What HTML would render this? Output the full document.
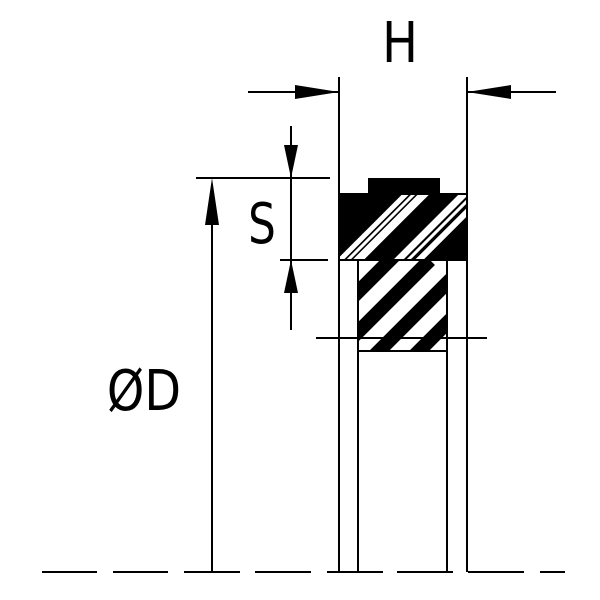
<!DOCTYPE html>
<html><head><meta charset="utf-8"><style>html,body{margin:0;padding:0;background:#fff}svg{display:block}</style></head>
<body>
<svg width="600" height="600" viewBox="0 0 600 600" xmlns="http://www.w3.org/2000/svg">
<defs>
<clipPath id="ct"><rect x="339" y="194" width="127" height="66"/></clipPath>
<clipPath id="cb"><rect x="358" y="260" width="89" height="91"/></clipPath>
</defs>
<g stroke="#000" stroke-width="2" fill="none">
<path d="M42 572H97M113 572H168M184 572H240M255 572H311M327 572H383M397 572H453M468 572H524M540 572H565"/>
<path d="M339 77V572M467 77V572M358 260V572M447 260V572"/>
<path d="M248 92H339M467 92H556"/>
<path d="M196 178H330M280 260H328M291 126V330"/>
<path d="M212 200V572"/>
</g>
<g fill="#000">
<polygon points="339,92 295,85 295,99"/>
<polygon points="467,92 511,85 511,99"/>
<polygon points="291,178 284,145 298,145"/>
<polygon points="291,260 284,293 298,293"/>
<polygon points="212,178 205,225 219,225"/>
<rect x="368" y="178" width="72" height="17"/>
</g>
<g clip-path="url(#ct)">
<rect x="339" y="194" width="128" height="66" fill="#000"/>
<g stroke="#fff" fill="none">
<path d="M330 270L410 190" stroke-width="5"/>
<path d="M338 270L418 190" stroke-width="3"/>
<path d="M348 270L428 190" stroke-width="8"/>
<path d="M388 270L468 190" stroke-width="7"/>
<path d="M398 270L478 190" stroke-width="3"/>
<path d="M409 270L489 190" stroke-width="6"/>
</g>
</g>
<g clip-path="url(#cb)">
<rect x="358" y="260" width="89" height="91" fill="#fff"/>
<g stroke="#000" stroke-width="14" fill="none">
<path d="M330 320L400 250"/>
<path d="M330 360L430 260"/>
<path d="M360 370L470 260"/>
<path d="M400 370L480 290"/>
</g>
</g>
<g stroke="#000" stroke-width="2" fill="none">
<rect x="358" y="260" width="89" height="91"/>
<rect x="339" y="194" width="128" height="66"/>
<path d="M316 338H487"/>
</g>
<g font-family="'DejaVu Sans','Liberation Sans',sans-serif" fill="#000">
<text x="400" y="62" font-size="56" text-anchor="middle" transform="translate(400 0) scale(0.85 1) translate(-400 0)">H</text>
<text x="262" y="243" font-size="56" text-anchor="middle" transform="translate(262 0) scale(0.78 1) translate(-262 0)">S</text>
<text x="144" y="410" font-size="56" text-anchor="middle" transform="translate(144 0) scale(0.85 1) translate(-144 0)">ØD</text>
</g>
</svg>
</body></html>
